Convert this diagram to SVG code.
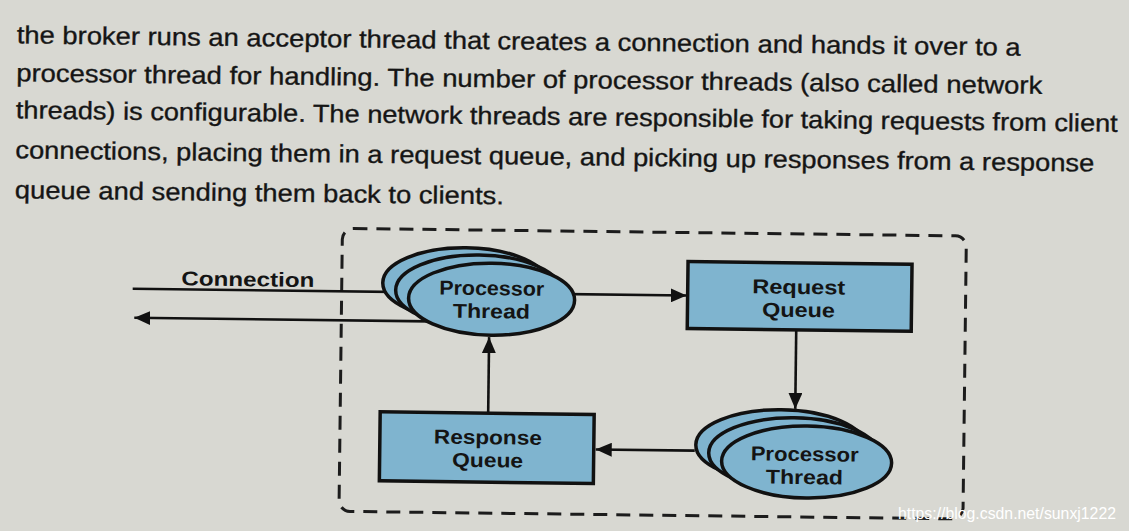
<svg xmlns="http://www.w3.org/2000/svg" width="1129" height="531" viewBox="0 0 1129 531">
<style>
.body{font-family:"Liberation Sans",Arial,sans-serif;font-size:25px;fill:#151515;stroke:#151515;stroke-width:0.35}
.lbl{font-family:"Liberation Sans",Arial,sans-serif;font-weight:700;font-size:20px;fill:#141414;text-anchor:middle}
.node{fill:#7fb4cf;stroke:#111;stroke-width:3.5}
.conn{stroke:#111;stroke-width:2.6;fill:none}
.frame{fill:none;stroke:#1c1c1c;stroke-width:3;stroke-dasharray:14 9}
.wm{font-family:"Liberation Sans",Arial,sans-serif;font-size:17px;fill:#ffffff}
</style>
<defs>
<marker id="ah" viewBox="0 0 16 14" markerUnits="userSpaceOnUse" markerWidth="16" markerHeight="14" refX="16" refY="7" orient="auto">
<path d="M0,0 L16,7 L0,14 z" fill="#111"/>
</marker>
</defs>
<rect width="1129" height="531" fill="#d8d8d2"/>
<g transform="rotate(0.7 560 265)">
<g id="paragraph">
<text class="body" x="14" y="50" textLength="1004" lengthAdjust="spacingAndGlyphs">the broker runs an acceptor thread that creates a connection and hands it over to a</text>
<text class="body" x="14" y="88" textLength="1026" lengthAdjust="spacingAndGlyphs">processor thread for handling. The number of processor threads (also called network</text>
<text class="body" x="14" y="125" textLength="1102" lengthAdjust="spacingAndGlyphs">threads) is configurable. The network threads are responsible for taking requests from client</text>
<text class="body" x="14" y="165" textLength="1079" lengthAdjust="spacingAndGlyphs">connections, placing them in a request queue, and picking up responses from a response</text>
<text class="body" x="14" y="205" textLength="489" lengthAdjust="spacingAndGlyphs">queue and sending them back to clients.</text>
</g>
<rect id="broker-frame" class="frame" x="342" y="231" width="624" height="283" rx="11"/>
<g id="connectors">
<line class="conn" x1="133" y1="294" x2="687" y2="294" marker-end="url(#ah)"/>
<line class="conn" x1="430" y1="323" x2="135" y2="323" marker-end="url(#ah)"/>
<line class="conn" x1="797" y1="327" x2="797" y2="406" marker-end="url(#ah)"/>
<line class="conn" x1="490" y1="414" x2="490" y2="338" marker-end="url(#ah)"/>
<line class="conn" x1="697" y1="449" x2="598" y2="449" marker-end="url(#ah)"/>
<text class="lbl" x="248" y="290" textLength="133" lengthAdjust="spacingAndGlyphs">Connection</text>
</g>
<g id="processor-thread-1">
<ellipse class="node" cx="466" cy="285" rx="83" ry="36"/>
<ellipse class="node" cx="479" cy="292" rx="83" ry="36"/>
<ellipse class="node" cx="492" cy="300" rx="83" ry="36"/>
<text class="lbl" x="492" y="296" textLength="105" lengthAdjust="spacingAndGlyphs">Processor</text>
<text class="lbl" x="492" y="319" textLength="77" lengthAdjust="spacingAndGlyphs">Thread</text>
</g>
<g id="request-queue">
<rect class="node" x="688" y="260" width="224" height="67"/>
<text class="lbl" x="799" y="291" textLength="93" lengthAdjust="spacingAndGlyphs">Request</text>
<text class="lbl" x="799" y="314" textLength="73" lengthAdjust="spacingAndGlyphs">Queue</text>
</g>
<g id="processor-thread-2">
<ellipse class="node" cx="783" cy="443" rx="85" ry="36"/>
<ellipse class="node" cx="796" cy="451" rx="85" ry="36"/>
<ellipse class="node" cx="809" cy="459" rx="85" ry="36"/>
<text class="lbl" x="807" y="458" textLength="108" lengthAdjust="spacingAndGlyphs">Processor</text>
<text class="lbl" x="807" y="481" textLength="77" lengthAdjust="spacingAndGlyphs">Thread</text>
</g>
<g id="response-queue">
<rect class="node" x="382" y="414" width="214" height="69"/>
<text class="lbl" x="490" y="445" textLength="108" lengthAdjust="spacingAndGlyphs">Response</text>
<text class="lbl" x="490" y="468" textLength="71" lengthAdjust="spacingAndGlyphs">Queue</text>
</g>
</g>
<text class="wm" x="898" y="519" textLength="218" lengthAdjust="spacingAndGlyphs">https://blog.csdn.net/sunxj1222</text>
</svg>
